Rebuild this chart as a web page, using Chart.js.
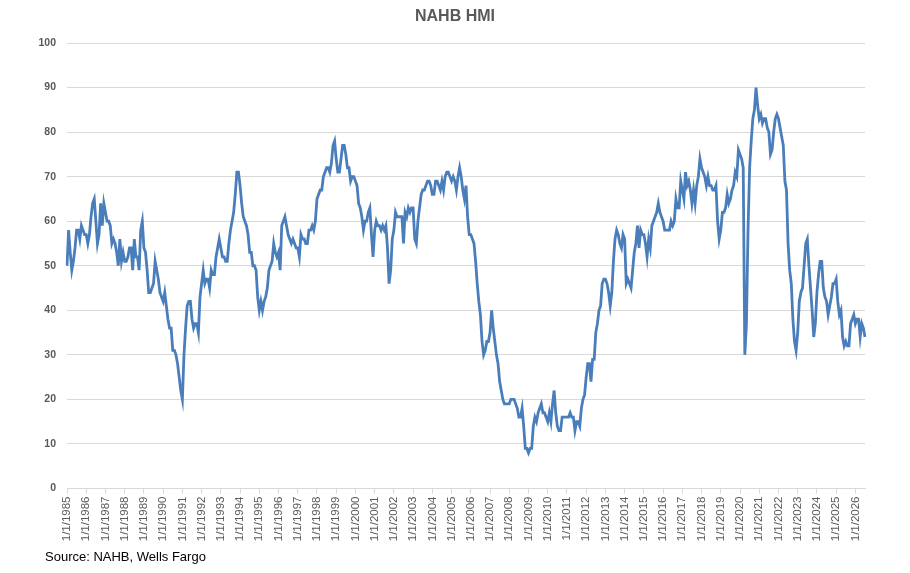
<!DOCTYPE html>
<html>
<head>
<meta charset="utf-8">
<script src="https://cdn.jsdelivr.net/npm/chart.js@4.4.1/dist/chart.umd.min.js"></script>
<style>
  html, body { margin: 0; padding: 0; background: #ffffff; }
  #wrap { position: relative; width: 910px; height: 573px; overflow: hidden; }
  #c { position: absolute; left: 0; top: 0; }
  #title { position: absolute; left: 0; top: 7px; width: 910px; text-align: center;
           font: bold 16px "Liberation Sans", Arial, sans-serif; color: #595959; }
  #source { position: absolute; left: 45px; top: 549px;
            font: 13px "Liberation Sans", Arial, sans-serif; color: #000000; }
</style>
</head>
<body>
<div id="wrap">
  <canvas id="c" width="910" height="573"></canvas>
  <div id="title">NAHB HMI</div>
  <div id="source">Source: NAHB, Wells Fargo</div>
</div>
<script>
// ---- Data ----
const firstYear = 1985;
const lastYear = 2026;
const yTicks = [0, 10, 20, 30, 40, 50, 60, 70, 80, 90, 100];

// NAHB Housing Market Index, monthly (Jan 1985 - Jul 2026)
const hmi = [
  /*1985*/ 50, 58, 53, 49, 51, 54, 58, 58, 56, 59, 58, 57,
  /*1986*/ 57, 55, 57, 61, 64, 65, 60, 55, 57, 64, 59, 64,
  /*1987*/ 62, 60, 60, 59, 55, 56, 55, 53, 50, 56, 51, 53,
  /*1988*/ 51, 51, 52, 54, 54, 49, 56, 52, 52, 49, 58, 60,
  /*1989*/ 54, 53, 49, 44, 44, 45, 46, 51, 49, 47, 44, 43,
  /*1990*/ 42, 44, 41, 38, 36, 36, 31, 31, 30, 28, 25, 22,
  /*1991*/ 20, 30, 36, 41, 42, 42, 38, 36, 37, 37, 35, 43,
  /*1992*/ 46, 49, 46, 47, 47, 45, 49, 48, 48, 52, 54, 56,
  /*1993*/ 54, 52, 52, 51, 51, 55, 58, 60, 62, 66, 71, 71,
  /*1994*/ 68, 64, 61, 60, 59, 57, 53, 53, 50, 50, 49, 43,
  /*1995*/ 40, 42, 40, 42, 43, 45, 49, 50, 51, 55, 53, 52,
  /*1996*/ 53, 49, 59, 60, 61, 59, 57, 56, 55, 56, 55, 54,
  /*1997*/ 54, 52, 57, 56, 56, 55, 55, 58, 58, 59, 58, 60,
  /*1998*/ 65, 66, 67, 67, 70, 71, 72, 72, 71, 73, 77, 78,
  /*1999*/ 74, 71, 71, 74, 77, 77, 75, 72, 72, 69, 70, 70,
  /*2000*/ 69, 68, 64, 63, 61, 58, 60, 60, 62, 63, 57, 52,
  /*2001*/ 58, 60, 59, 59, 58, 59, 58, 59, 54, 46, 49, 56,
  /*2002*/ 58, 62, 61, 61, 61, 61, 55, 62, 61, 63, 62, 63,
  /*2003*/ 63, 56, 55, 60, 63, 66, 67, 67, 68, 69, 69, 68,
  /*2004*/ 66, 66, 69, 69, 68, 67, 69, 67, 70, 71, 71, 70,
  /*2005*/ 69, 70, 69, 67, 70, 72, 70, 67, 65, 68, 61, 57,
  /*2006*/ 57, 56, 55, 51, 46, 42, 39, 33, 30, 31, 33, 33,
  /*2007*/ 35, 40, 36, 33, 30, 28, 24, 22, 20, 19, 19, 19,
  /*2008*/ 19, 20, 20, 20, 19, 18, 16, 16, 18, 14, 9, 9,
  /*2009*/ 8, 9, 9, 14, 16, 15, 17, 18, 19, 17, 17, 16,
  /*2010*/ 15, 17, 15, 19, 22, 17, 14, 13, 13, 16, 16, 16,
  /*2011*/ 16, 16, 17, 16, 16, 13, 15, 15, 14, 18, 20, 21,
  /*2012*/ 25, 28, 28, 24, 29, 29, 35, 37, 40, 41, 46, 47,
  /*2013*/ 47, 46, 44, 41, 44, 51, 56, 58, 57, 55, 54, 57,
  /*2014*/ 56, 46, 47, 46, 45, 49, 53, 55, 59, 54, 58, 57,
  /*2015*/ 57, 55, 52, 56, 54, 59, 60, 61, 62, 64, 62, 61,
  /*2016*/ 60, 58, 58, 58, 58, 60, 59, 60, 65, 63, 63, 69,
  /*2017*/ 67, 65, 71, 68, 69, 67, 64, 67, 64, 68, 70, 74,
  /*2018*/ 72, 71, 70, 68, 70, 68, 68, 67, 67, 68, 60, 56,
  /*2019*/ 58, 62, 62, 63, 66, 64, 65, 67, 68, 71, 70, 76,
  /*2020*/ 75, 74, 72, 30, 37, 58, 72, 78, 83, 85, 90, 86,
  /*2021*/ 83, 84, 82, 83, 83, 81, 80, 75, 76, 80, 83, 84,
  /*2022*/ 83, 81, 79, 77, 69, 67, 55, 49, 46, 38, 33, 31,
  /*2023*/ 35, 42, 44, 45, 50, 55, 56, 50, 45, 40, 34, 37,
  /*2024*/ 44, 48, 51, 51, 45, 43, 42, 39, 41, 43, 46, 46,
  /*2025*/ 47, 42, 39, 40, 34, 32, 33, 32, 32, 37, 38, 39,
  /*2026*/ 37, 38, 38, 34, 37, 36, 34
];

// Category labels "m/1/yyyy"
const labels = [];
for (let y = firstYear; y <= lastYear; y++) {
  for (let m = 1; m <= 12; m++) {
    if (labels.length < hmi.length) labels.push(m + '/1/' + y);
  }
}

const FONT = '"Liberation Sans", Arial, sans-serif';

new Chart(document.getElementById('c'), {
  type: 'line',
  data: {
    labels: labels,
    datasets: [{
      label: 'NAHB HMI',
      data: hmi,
      borderColor: '#4a7ebb',
      borderWidth: 2.8,
      pointRadius: 0,
      pointHoverRadius: 0,
      tension: 0,
      fill: false
    }]
  },
  options: {
    responsive: false,
    animation: false,
    devicePixelRatio: 1,
    layout: { padding: { top: 43, right: 45, left: 0, bottom: 0 } },
    plugins: {
      legend: { display: false },
      title: { display: false },
      tooltip: { enabled: false }
    },
    scales: {
      x: {
        type: 'category',
        offset: false,
        afterBuildTicks: (axis) => {
          axis.ticks = axis.ticks.filter(t => t.value % 12 === 0);
        },
        afterFit: (axis) => { axis.height = 84.5; },
        grid: {
          display: true,
          drawOnChartArea: false,
          drawTicks: true,
          tickLength: 5,
          color: '#d9d9d9',
          lineWidth: 1
        },
        border: { display: true, color: '#d9d9d9', width: 1 },
        ticks: {
          autoSkip: false,
          maxRotation: 90,
          minRotation: 90,
          padding: 3,
          color: '#595959',
          font: { family: FONT, size: 11.5 }
        }
      },
      y: {
        min: 0,
        max: 100,
        afterBuildTicks: (axis) => {
          axis.ticks = yTicks.map(v => ({ value: v }));
        },
        afterFit: (axis) => { axis.width = 67; },
        grid: {
          color: '#d9d9d9',
          lineWidth: 1,
          drawTicks: false
        },
        border: { display: false },
        ticks: {
          stepSize: 10,
          padding: 11,
          color: '#595959',
          font: { family: FONT, size: 10.5, weight: 'bold' }
        }
      }
    }
  }
});
</script>
</body>
</html>
